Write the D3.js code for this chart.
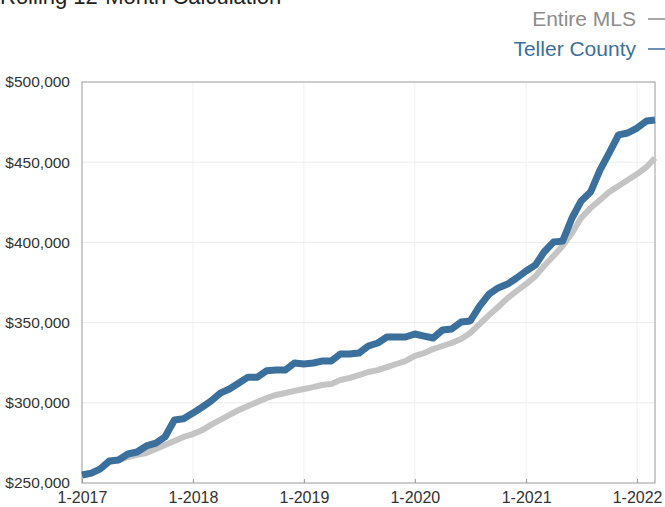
<!DOCTYPE html>
<html><head><meta charset="utf-8">
<script src="https://cdn.jsdelivr.net/npm/d3@7"></script>
<style>body{margin:0;background:#fff;}svg{display:block;font-family:"Liberation Sans",Arial,sans-serif;}</style>
</head><body>
<svg id="c" width="665" height="507"></svg>
<script>
const startMonth = "2017-01";
const tellerCounty = [255.0,256.2,258.7,263.7,264.3,268.1,269.3,273.1,274.9,278.7,289.3,290.0,
  293.6,297.4,301.0,306.0,308.6,312.3,316.0,316.0,320.0,320.5,320.5,324.8,
  324.2,324.8,326.0,326.0,330.4,330.4,331.0,335.4,337.3,341.0,341.0,341.0,
  342.9,341.6,340.4,345.4,346.0,350.4,351.0,360.3,367.8,371.6,374.0,377.8,
  382.2,386.0,394.0,400.2,400.8,415.2,425.8,431.4,445.0,455.7,467.0,468.2,
  471.3,475.7,476.3];
const entireMLS = [254.4,256.2,258.7,263.0,264.3,266.2,267.5,268.7,271.2,273.7,276.2,278.7,
  280.5,283.0,286.2,289.3,292.4,295.5,298.0,300.5,303.0,304.9,306.1,307.4,
  308.6,309.8,311.1,311.7,314.2,315.5,317.3,319.2,320.4,322.3,324.2,326.0,
  329.2,331.0,333.5,335.4,337.3,339.8,343.5,349.1,354.7,359.7,365.3,369.7,
  374.1,379.0,385.3,391.5,397.7,405.9,415.2,421.4,426.4,431.4,435.2,438.9,
  442.6,447.0,452.6];
const yTicks = [250000,300000,350000,400000,450000,500000];
const xTickLabels = ["1-2017","1-2018","1-2019","1-2020","1-2021","1-2022"];
const seriesNames = ["Entire MLS","Teller County"];
const title = "Rolling 12-Month Calculation";

const svg = d3.select("#c");
const L=82, R=655, T=82, B=483;
const parse = d3.timeParse("%Y-%m");
const t0 = parse(startMonth);
const dates = tellerCounty.map((_,i)=>d3.timeMonth.offset(t0,i));
const x = d3.scaleTime().domain([t0, dates[dates.length-1]]).range([L,R]);
const y = d3.scaleLinear().domain([250000,500000]).range([B,T]);
const xTickDates = xTickLabels.map(s=>{const [m,yr]=s.split("-");return new Date(+yr,+m-1,1);});

// gridlines
svg.append("g").selectAll("line.h").data(yTicks.slice(1,-1)).join("line")
  .attr("x1",L).attr("x2",R).attr("y1",d=>y(d)).attr("y2",d=>y(d))
  .attr("stroke","#ececec").attr("stroke-width",1);
svg.append("g").selectAll("line.v").data(xTickDates.slice(1)).join("line")
  .attr("x1",d=>x(d)).attr("x2",d=>x(d)).attr("y1",T).attr("y2",B)
  .attr("stroke","#f0f0f0").attr("stroke-width",1);

// frame
svg.append("rect").attr("x",L).attr("y",T).attr("width",R-L).attr("height",B-T)
  .attr("fill","none").attr("stroke","#9a9a9a").attr("stroke-width",1);

// axes
const yAxis = d3.axisLeft(y).tickValues(yTicks).tickSize(0).tickPadding(12).tickFormat(d3.format("$,"));
const gy = svg.append("g").attr("transform",`translate(${L},0)`).call(yAxis);
gy.select(".domain").remove();
gy.selectAll("text").attr("font-size",15.5).attr("fill","#333");

const xAxis = d3.axisBottom(x).tickValues(xTickDates).tickSize(-4).tickPadding(0)
  .tickFormat((d,i)=>xTickLabels[i]);
const gx = svg.append("g").attr("transform",`translate(0,${B})`).call(xAxis);
gx.select(".domain").remove();
gx.selectAll("line").attr("stroke","#9a9a9a");
gx.selectAll("text").attr("font-size",16).attr("fill","#333").attr("dy",null).attr("y",20);

// lines
const line = arr => d3.line().x((d,i)=>x(dates[i])).y(d=>y(d*1000))(arr);
svg.append("path").attr("d",line(entireMLS)).attr("fill","none")
  .attr("stroke","#c4c4c4").attr("stroke-width",6).attr("stroke-linejoin","round");
svg.append("path").attr("d",line(tellerCounty)).attr("fill","none")
  .attr("stroke","#3b6f9c").attr("stroke-width",7).attr("stroke-linejoin","round");

// title
svg.append("text").attr("x",0).attr("y",4).attr("font-size",22).attr("fill","#222").text(title);

// legend
const legColors = ["#8c8c8c","#3b6f9c"];
const lg = svg.append("g");
seriesNames.forEach((n,i)=>{
  const yy = 26 + i*30;
  lg.append("text").attr("x",636).attr("y",yy).attr("text-anchor","end")
    .attr("font-size",21).attr("fill",legColors[i]).text(n);
  lg.append("line").attr("x1",648).attr("x2",665).attr("y1",yy-7).attr("y2",yy-7)
    .attr("stroke",legColors[i]).attr("stroke-width",1.5);
});
</script>
</body></html>
